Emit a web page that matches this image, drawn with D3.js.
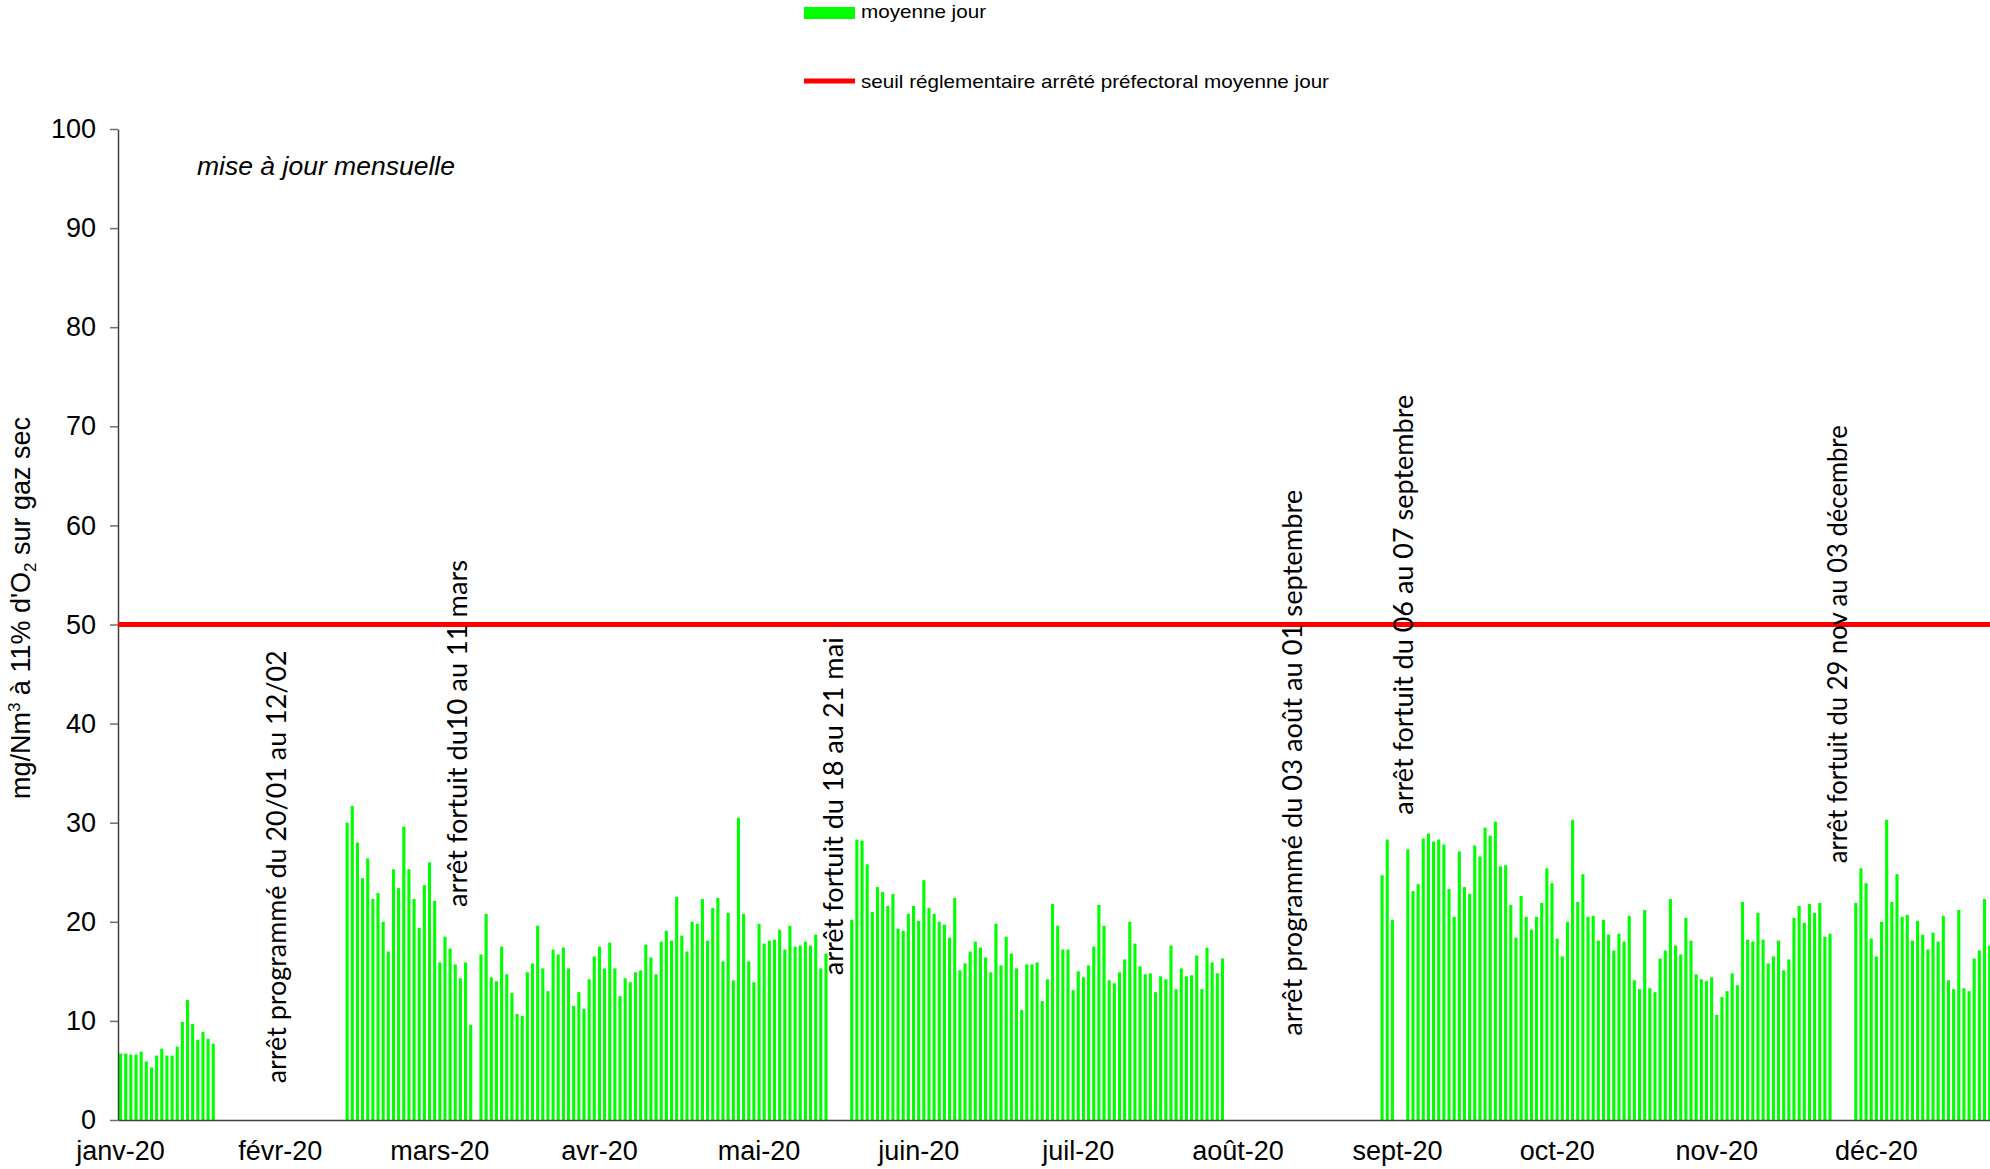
<!DOCTYPE html>
<html>
<head>
<meta charset="utf-8">
<script src="https://cdnjs.cloudflare.com/ajax/libs/d3/7.8.5/d3.min.js"></script>
<style>
body { margin: 0; background: #ffffff; }
</style>
</head>
<body>
<div id="mainDiv"></div>
<script>
// daily means (mg/Nm3), one array per running period between shutdowns
var janValues = [6.7, 6.7, 6.6, 6.6, 6.9, 5.9, 5.3, 6.5, 7.2, 6.5, 6.5, 7.4, 9.9, 12.1, 9.7, 8.1, 8.9, 8.2, 7.7];

var febMarValues = [30.0, 31.7, 28.0, 24.4, 26.4, 22.3, 22.9, 20.0, 17.0, 25.3, 23.4, 29.6, 25.3,
                    22.3, 19.4, 23.7, 26.0, 22.1, 15.9, 18.5, 17.3, 15.7, 14.3, 15.9, 9.6];

var marMayValues = [16.7, 20.8, 14.4, 14.0, 17.5, 14.7, 12.8, 10.7, 10.5, 14.9,
                    15.8, 19.6, 15.3, 13.0, 17.2, 16.7, 17.4, 15.3, 11.5, 12.9,
                    11.2, 14.2, 16.5, 17.5, 15.3, 17.9, 15.3, 12.5, 14.3, 13.9,
                    14.9, 15.1, 17.7, 16.4, 14.7, 18.0, 19.1, 18.1, 22.5, 18.6,
                    17.0, 20.0, 19.8, 22.3, 18.1, 21.4, 22.4, 16.0, 20.9, 14.1,
                    30.5, 20.8, 16.0, 13.9, 19.8, 17.8, 18.1, 18.2, 19.2, 17.2,
                    19.6, 17.5, 17.6, 18.0, 17.6, 18.7, 15.3, 16.8];

var mayAugValues = [20.2, 28.3, 28.2, 25.8, 21.0, 23.5, 23.0, 21.6, 22.8, 19.3,
                    19.1, 20.8, 21.6, 20.1, 24.2, 21.4, 20.8, 20.0, 19.7, 18.4,
                    22.4, 15.1, 15.8, 17.0, 18.0, 17.4, 16.4, 14.9, 19.8, 15.6,
                    18.5, 16.8, 15.3, 11.1, 15.7, 15.7, 15.9, 12.0, 14.2, 21.8,
                    19.6, 17.2, 17.2, 13.1, 15.0, 14.4, 15.6, 17.5, 21.7, 19.6,
                    14.1, 13.8, 14.9, 16.2, 20.0, 17.8, 15.5, 14.7, 14.8, 12.9,
                    14.5, 14.2, 17.6, 13.2, 15.3, 14.5, 14.6, 16.6, 13.2, 17.4,
                    15.9, 14.8, 16.3];

var sepValues = [24.7, 28.3, 20.2];

var sepNovValues = [27.3, 23.1, 23.8, 28.4, 28.9, 28.1, 28.3, 27.8, 23.3, 20.5,
                    27.1, 23.5, 22.8, 27.7, 26.6, 29.5, 28.7, 30.1, 25.6, 25.7,
                    21.7, 18.4, 22.6, 20.5, 19.2, 20.5, 21.9, 25.4, 23.9, 18.3,
                    16.5, 20.0, 30.3, 22.0, 24.8, 20.5, 20.6, 18.1, 20.2, 18.7,
                    17.1, 18.8, 18.0, 20.6, 14.1, 13.2, 21.2, 13.3, 12.9, 16.3,
                    17.1, 22.3, 17.6, 16.7, 20.4, 18.1, 14.7, 14.2, 14.0, 14.4,
                    10.6];

var novValues = [12.4, 13.0, 14.8, 13.6, 22.0, 18.2, 18.0, 20.9, 18.2, 15.8,
                 16.5, 18.1, 15.1, 16.2, 20.4, 21.6, 19.9, 21.8, 20.9, 21.9,
                 18.5, 18.8];

var decValues = [21.9, 25.4, 23.9, 18.3, 16.5, 20.0, 30.3, 22.0, 24.8, 20.5,
                 20.7, 18.1, 20.1, 18.7, 17.2, 18.9, 18.0, 20.6, 14.1, 13.2,
                 21.2, 13.3, 13.0, 16.3, 17.1, 22.3, 17.6];

var runStarts = ["2020-01-01", "2020-02-14", "2020-03-11", "2020-05-22",
                 "2020-09-02", "2020-09-07", "2020-11-07", "2020-12-03"];
var runValues = [janValues, febMarValues, marMayValues, mayAugValues,
                 sepValues, sepNovValues, novValues, decValues];

var monthLabels = ["janv-20", "févr-20", "mars-20", "avr-20", "mai-20", "juin-20",
                   "juil-20", "août-20", "sept-20", "oct-20", "nov-20", "déc-20"];
var monthTickDays = [0, 31, 62, 93, 124, 155, 186, 217, 248, 279, 310, 341];
var yTicks = [0, 10, 20, 30, 40, 50, 60, 70, 80, 90, 100];
var threshold = 50;

var notes = ["arrêt programmé du 20/01 au 12/02",
             "arrêt fortuit du10 au 11 mars",
             "arrêt fortuit du 18 au 21 mai",
             "arrêt programmé du 03 août au 01 septembre",
             "arrêt fortuit du 06 au 07 septembre",
             "arrêt fortuit du 29 nov au 03 décembre"];
var noteDays = [32.6, 67.8, 140.8, 230.0, 251.5, 335.8];
var noteLevels = [3.7, 21.5, 14.6, 8.5, 30.8, 25.9];
var noteLengths = [433, 347, 338, 546, 420, 438];

// build the daily table
var parseDay = d3.timeParse("%Y-%m-%d");
var yearStart = parseDay("2020-01-01");
var daily = [];
for (var r = 0; r < runStarts.length; r++) {
    var first = d3.timeDay.count(yearStart, parseDay(runStarts[r]));
    for (var k = 0; k < runValues[r].length; k++) {
        daily.push({day: first + k, value: runValues[r][k]});
    }
}

var plotLeft = 118, plotBottom = 1120, plotTop = 129, dayStep = 5.149;

var mySvg = d3.select("#mainDiv").append("svg")
              .attr("width", 1990)
              .attr("height", 1169)
              .style("font-family", "'Liberation Sans', Arial, sans-serif");

var x = d3.scaleBand()
          .domain(d3.range(366))
          .range([plotLeft, plotLeft + 366 * dayStep])
          .paddingInner(0.4)
          .paddingOuter(0.2);
var xDay = d3.scaleLinear().domain([0, 366]).range([plotLeft, plotLeft + 366 * dayStep]);
var y = d3.scaleLinear().domain([0, 100]).range([plotBottom, plotTop]);

// bars
mySvg.append("g").selectAll("rect")
     .data(daily)
     .join("rect")
     .attr("x", d => x(d.day))
     .attr("y", d => y(d.value))
     .attr("width", x.bandwidth())
     .attr("height", d => y(0) - y(d.value))
     .attr("fill", "#00ff00");

// y axis
var yAxis = mySvg.append("g")
                 .attr("transform", "translate(" + plotLeft + ",0)")
                 .call(d3.axisLeft(y).tickValues(yTicks).tickSize(8).tickSizeOuter(0).tickPadding(14));
yAxis.select(".domain").attr("stroke", "#404040").attr("stroke-width", 1.5);
yAxis.selectAll(".tick line").attr("stroke", "#707070").attr("stroke-width", 1.5);
yAxis.selectAll("text").attr("font-size", 27).attr("fill", "#000")
     .style("font-family", "'Liberation Sans', Arial, sans-serif");

// x axis
var xAxis = mySvg.append("g")
                 .attr("transform", "translate(0," + plotBottom + ")")
                 .call(d3.axisBottom(x).tickValues(monthTickDays)
                         .tickFormat((d, i) => monthLabels[i])
                         .tickSize(0).tickSizeOuter(0).tickPadding(21));
xAxis.select(".domain").attr("stroke", "#404040").attr("stroke-width", 1.5);
xAxis.selectAll("text").attr("font-size", 27).attr("fill", "#000")
     .style("font-family", "'Liberation Sans', Arial, sans-serif");

// threshold line
mySvg.append("line")
     .attr("x1", plotLeft)
     .attr("x2", 1990)
     .attr("y1", y(threshold))
     .attr("y2", y(threshold))
     .attr("stroke", "#ff0000")
     .attr("stroke-width", 5);

// y title
var yTitle = mySvg.append("text")
                  .attr("transform", "translate(30,608) rotate(-90)")
                  .attr("text-anchor", "middle")
                  .attr("font-size", 27);
yTitle.append("tspan").text("mg/Nm");
yTitle.append("tspan").attr("font-size", 17).attr("dy", -10).text("3");
yTitle.append("tspan").attr("dy", 10).text(" à 11% d'O");
yTitle.append("tspan").attr("font-size", 17).attr("dy", 6).text("2");
yTitle.append("tspan").attr("dy", -6).text(" sur gaz sec");

// update note
mySvg.append("text")
     .text("mise à jour mensuelle")
     .attr("x", 197)
     .attr("y", 175)
     .attr("font-size", 25)
     .attr("font-style", "italic")
     .attr("textLength", 258)
     .attr("lengthAdjust", "spacingAndGlyphs");

// shutdown annotations
for (var n = 0; n < notes.length; n++) {
    mySvg.append("text")
         .text(notes[n])
         .attr("transform", "translate(" + xDay(noteDays[n]) + "," + y(noteLevels[n]) + ") rotate(-90)")
         .attr("textLength", noteLengths[n])
         .attr("lengthAdjust", "spacingAndGlyphs")
         .attr("font-size", 27)
         .style("font-family", "Lato, 'Open Sans', sans-serif");
}

// legend
mySvg.append("rect")
     .attr("x", 804)
     .attr("y", 7)
     .attr("width", 51)
     .attr("height", 12)
     .attr("fill", "#00ff00");
mySvg.append("text")
     .text("moyenne jour")
     .attr("x", 861)
     .attr("y", 18)
     .attr("font-size", 19)
     .attr("textLength", 125)
     .attr("lengthAdjust", "spacingAndGlyphs");
mySvg.append("line")
     .attr("x1", 804)
     .attr("x2", 855)
     .attr("y1", 81)
     .attr("y2", 81)
     .attr("stroke", "#ff0000")
     .attr("stroke-width", 5);
mySvg.append("text")
     .text("seuil réglementaire arrêté préfectoral moyenne jour")
     .attr("x", 861)
     .attr("y", 88)
     .attr("font-size", 19)
     .attr("textLength", 468)
     .attr("lengthAdjust", "spacingAndGlyphs");
</script>
</body>
</html>
